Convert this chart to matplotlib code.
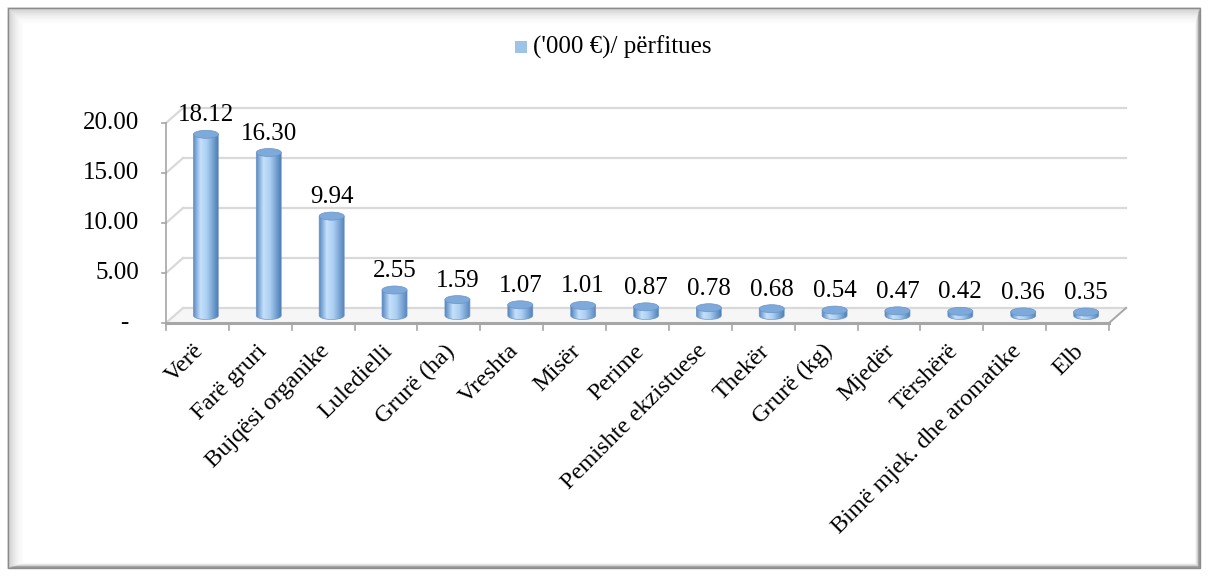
import numpy as np
import matplotlib.pyplot as plt
from matplotlib.path import Path
from matplotlib.patches import PathPatch, Ellipse, Rectangle, Polygon
from matplotlib.colors import LinearSegmentedColormap

# data
categories = ["Verë", "Farë gruri", "Bujqësi organike", "Luledielli", "Grurë (ha)",
              "Vreshta", "Misër", "Perime", "Pemishte ekzistuese", "Thekër",
              "Grurë (kg)", "Mjedër", "Tërshërë", "Bimë mjek. dhe aromatike", "Elb"]
values = [18.12, 16.30, 9.94, 2.55, 1.59, 1.07, 1.01, 0.87, 0.78, 0.68,
          0.54, 0.47, 0.42, 0.36, 0.35]
y_ticks = [0, 5, 10, 15, 20]
y_tick_labels = ["-", "5.00", "10.00", "15.00", "20.00"]
series_name = "('000 €)/ përfitues"

plt.rcParams['font.family'] = ['Liberation Serif', 'DejaVu Serif']

W, H = 1208, 576
fig = plt.figure(figsize=(W / 100, H / 100), dpi=100)
fig.patch.set_facecolor('white')

# shadowed frame around the chart
for k in range(18):
    a = 0.13 * (1 - k / 18) ** 2
    fig.add_artist(Rectangle(((8 + k) / W, (8 + k * 0.3) / H), (1192 - k * 1.3) / W, (560 - k * 1.3) / H,
                             transform=fig.transFigure, fill=False, edgecolor='black',
                             alpha=a, lw=1.2))
fig.add_artist(Rectangle((8 / W, 8 / H), 1192 / W, 560 / H, transform=fig.transFigure,
                         fill=False, edgecolor='#8c8c8c', lw=1.0))

# plot area: front plane 166..1109 px in x, 323..123 px in y
x0p, x1p, y0p, y1p = 166, 1109, 323, 123
ax = fig.add_axes([x0p / W, (H - y0p) / H, (x1p - x0p) / W, (y0p - y1p) / H])
ax.axis('off')
n = len(categories)
pxx = (x1p - x0p) / n
pxy = (y0p - y1p) / 20.0
ddx = 17 / pxx
ddy = 15 / pxy

grid_c = '#d9d9d9'
axis_c = '#a6a6a6'

# floor
ax.add_patch(Polygon([(0, 0), (n, 0), (n + ddx, ddy), (ddx, ddy)], closed=True,
                     facecolor='#f6f6f6', edgecolor='none', zorder=1, clip_on=False))
# back wall gridlines + side wall diagonals
for v in y_ticks:
    ax.plot([ddx, n + ddx], [v + ddy, v + ddy], color=grid_c, lw=1.6, zorder=1, clip_on=False)
    ax.plot([0, ddx], [v, v + ddy], color=grid_c, lw=1.6, zorder=1, clip_on=False)
ax.plot([n, n + ddx], [0, ddy], color=axis_c, lw=1.4, zorder=2, clip_on=False)
ax.plot([0, n], [0, 0], color=axis_c, lw=2.2, zorder=2, clip_on=False)
ax.plot([0, 0], [0, 20], color=axis_c, lw=1.2, zorder=2, clip_on=False)
for v, lab in zip(y_ticks, y_tick_labels):
    ax.plot([-4 / pxx, 0], [v, v], color=axis_c, lw=1.2, clip_on=False)
    if lab == "-":
        ax.text(-42 / pxx, v, lab, ha='center', va='center', fontsize=18, color='black')
    else:
        ax.text(-27 / pxx, v, lab, ha='right', va='center', fontsize=18, color='black')
for i in range(n + 1):
    ax.plot([i, i], [0, -7 / pxy], color=axis_c, lw=1.2, clip_on=False)

# cylinders
cmap = LinearSegmentedColormap.from_list('cyl', [(0, '#5586c0'), (0.3, '#c4e0fb'),
                                                 (0.55, '#acd0f2'), (1, '#4f7fb8')])
grad = np.linspace(0, 1, 256).reshape(1, -1)
w = 12.5 / pxx
eh = 4.0 / pxy
base = ddy / 2
for i, v in enumerate(values):
    cx = i + 0.5 + ddx / 2
    top = base + v
    t = np.linspace(np.pi, 2 * np.pi, 40)
    pts = [(cx - w, top), (cx - w, base)]
    pts += list(zip(cx + w * np.cos(t), base + eh * np.sin(t)))
    pts += [(cx + w, top), (cx - w, top)]
    path = Path(pts)
    body = PathPatch(path, facecolor='none', edgecolor='#6a94c6', lw=0.5, zorder=4)
    ax.add_patch(body)
    im = ax.imshow(grad, extent=(cx - w, cx + w, base - eh, top), aspect='auto',
                   cmap=cmap, zorder=3, interpolation='bilinear')
    im.set_clip_path(body)
    ax.add_patch(Ellipse((cx, top), 2 * w, 2 * eh, facecolor='#7eaadb',
                         edgecolor='#6a94c6', lw=0.5, zorder=5))
    ax.text(cx, top + eh + 15 / pxy, f"{v:.2f}", ha='center', va='center',
            fontsize=18, color='black', zorder=6)

# category labels
for i, c in enumerate(categories):
    ax.text(i + 0.55, -25 / pxy, c, rotation=45, ha='right', va='center',
            rotation_mode='anchor', fontsize=17.5, color='black')

ax.set_xlim(0, n)
ax.set_ylim(0, 20)

# legend
fig.add_artist(Rectangle((515 / W, (H - 53) / H), 12 / W, 12 / H, transform=fig.transFigure,
                         facecolor='#9dc3e6', edgecolor='none'))
fig.text(533 / W, (H - 47) / H, series_name, ha='left', va='center', fontsize=18)

fig.savefig('out.png', dpi=100)
